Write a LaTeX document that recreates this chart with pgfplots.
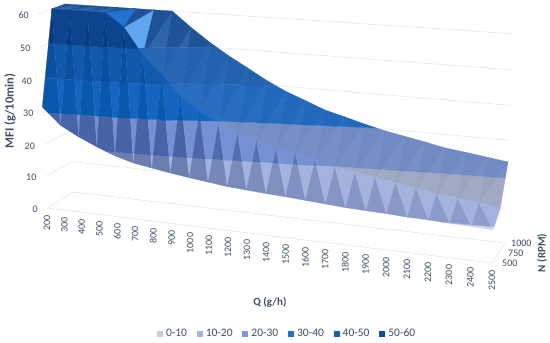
\documentclass[border=0pt]{standalone}
\usepackage{fontspec}
\setmainfont{Carlito}
\usepackage{xfp}
\usepackage{pgfplots}
\usepackage{pgfplotstable}
\pgfplotsset{compat=1.18}
\definecolor{txt}{HTML}{3F4E64}
\definecolor{gridc}{HTML}{E7E7E7}
\definecolor{LG1}{HTML}{C4CCE4}\definecolor{LG2}{HTML}{A5B2DA}\definecolor{LG3}{HTML}{7E97D6}
\definecolor{LG4}{HTML}{1F72CC}\definecolor{LG5}{HTML}{1562B4}\definecolor{LG6}{HTML}{0F4C9C}
\definecolor{FL1}{HTML}{D6DBF0}\definecolor{FD1}{HTML}{C4CCE6}
\definecolor{FL2}{HTML}{B2BFEA}\definecolor{FD2}{HTML}{6C7EB0}
\definecolor{FL3}{HTML}{7F9CDE}\definecolor{FD3}{HTML}{4664A6}
\definecolor{FL4}{HTML}{1568C4}\definecolor{FD4}{HTML}{0A58AE}
\definecolor{FL5}{HTML}{125CB0}\definecolor{FD5}{HTML}{0A4FA0}
\definecolor{FL6}{HTML}{0D4792}\definecolor{FD6}{HTML}{0A3A80}
\definecolor{BL1}{HTML}{D6DBF0}\definecolor{BD1}{HTML}{C4CCE6}
\definecolor{BL2}{HTML}{A8B1CB}\definecolor{BD2}{HTML}{969FBD}
\definecolor{BL3}{HTML}{7D94CA}\definecolor{BD3}{HTML}{6E87C2}
\definecolor{BL4}{HTML}{2F72C4}\definecolor{BD4}{HTML}{1E66BA}
\definecolor{BL5}{HTML}{2C6AB8}\definecolor{BD5}{HTML}{205FAA}
\definecolor{BL6}{HTML}{5FA5F0}\definecolor{BD6}{HTML}{1B4F93}
\definecolor{CL6}{HTML}{2272D2}\definecolor{CD6}{HTML}{2272D2}
% MFI (g/10min) read from the surface; the value axis stops at 60
\pgfplotstableread{
Q    N500 N750 N1000
200  31.8 60.0 60.0
300  26.6 60.0 60.0
400  23.6 60.0 60.0
500  21.1 60.0 60.0
600  18.9 56.0 60.0
700  17.3 48.0 60.0
800  16.4 42.6 60.0
900  15.5 36.3 55.5
1000 14.7 32.4 51.4
1100 14.0 29.3 47.8
1200 13.3 27.0 44.6
1300 12.9 25.2 41.3
1400 12.5 23.5 38.5
1500 12.2 22.7 36.3
1600 11.8 21.2 34.0
1700 11.4 19.8 32.5
1800 11.0 18.9 30.9
1900 10.8 18.0 29.5
2000 10.6 17.1 28.4
2100 10.3 16.1 27.3
2200 10.2 15.1 26.1
2300 9.9  14.5 25.4
2400 9.7  13.8 24.6
2500 9.5  13.0 23.8
}\mfi
% perspective projection of (Q,N,MFI) on the picture
\newcommand\Wd[3]{(1-.11*((#1)-200)/2300+.0335*((#2)-500)/500-.0344*(#3)/60)}
\newcommand\PX[3]{\fpeval{round((47+390.88*((#1)-200)/2300+28.44*((#2)-500)/500-10.31*(#3)/60)/\Wd{#1}{#2}{#3},2)}}
\newcommand\PY[3]{\fpeval{round((208+26.07*((#1)-200)/2300-9.57*((#2)-500)/500-194.48*(#3)/60)/\Wd{#1}{#2}{#3},2)}}
\newcommand\PQ[3]{(\PX{#1}{#2}{#3},\PY{#1}{#2}{#3}) }
\newcount\npts
\newcommand\addpt[3]{\edef\coords{\coords\PQ{#1}{#2}{#3}}\advance\npts 1\relax}
\newcommand\cross[7]{%
  \edef\tQ{\fpeval{(#1)+((#7)-(#3))/((#6)-(#3))*((#4)-(#1))}}%
  \edef\tN{\fpeval{(#2)+((#7)-(#3))/((#6)-(#3))*((#5)-(#2))}}%
  \addpt{\tQ}{\tN}{#7}}
\newcommand\Edge[6]{%
  \ifdim#3pt<\lo pt\else\ifdim#3pt>\hi pt\else\addpt{#1}{#2}{#3}\fi\fi
  \ifdim#3pt<#6pt
    \ifdim#3pt<\lo pt\ifdim#6pt>\lo pt\cross{#1}{#2}{#3}{#4}{#5}{#6}{\lo}\fi\fi
    \ifdim#3pt<\hi pt\ifdim#6pt>\hi pt\cross{#1}{#2}{#3}{#4}{#5}{#6}{\hi}\fi\fi
  \else
    \ifdim#3pt>\hi pt\ifdim#6pt<\hi pt\cross{#1}{#2}{#3}{#4}{#5}{#6}{\hi}\fi\fi
    \ifdim#3pt>\lo pt\ifdim#6pt<\lo pt\cross{#1}{#2}{#3}{#4}{#5}{#6}{\lo}\fi\fi
  \fi}
\newcommand\Band[3]{%
  \def\lo{#2}\def\hi{#3}\def\coords{}\npts=0\relax
  \Edge\Qa\Na\Za\Qb\Nb\Zb
  \Edge\Qb\Nb\Zb\Qc\Nc\Zc
  \Edge\Qc\Nc\Zc\Qa\Na\Za
  \ifnum\npts>2\relax
    \ifnum#1=6\relax\edef\sh{\sSix}\else\edef\sh{\s}\fi
    \edef\temp{\noexpand\addplot[forget plot,fill=\fam L#1!\sh!\fam D#1,draw=\fam L#1!\sh!\fam D#1,line width=.25pt] coordinates {\coords} -- cycle;}\temp
  \fi}
\newcommand\Tri[9]{%
  \edef\Qa{#1}\edef\Na{#2}\edef\Za{#3}\edef\Qb{#4}\edef\Nb{#5}\edef\Zb{#6}\edef\Qc{#7}\edef\Nc{#8}\edef\Zc{#9}%
  \Band{1}{0}{10}\Band{2}{10}{20}\Band{3}{20}{30}\Band{4}{30}{40}\Band{5}{40}{50}\Band{6}{50}{60}}
\newcommand\LoadCell[3]{%
  \pgfmathtruncatemacro\j{#1+1}%
  \pgfplotstablegetelem{#1}{Q}\of\mfi\edef\Qi{\pgfplotsretval}%
  \pgfplotstablegetelem{\j}{Q}\of\mfi\edef\Qj{\pgfplotsretval}%
  \pgfplotstablegetelem{#1}{#2}\of\mfi\edef\Ai{\pgfplotsretval}%
  \pgfplotstablegetelem{\j}{#2}\of\mfi\edef\Aj{\pgfplotsretval}%
  \pgfplotstablegetelem{#1}{#3}\of\mfi\edef\Bi{\pgfplotsretval}%
  \pgfplotstablegetelem{\j}{#3}\of\mfi\edef\Bj{\pgfplotsretval}}
\newcommand\BackCell[1]{%
  \LoadCell{#1}{N750}{N1000}\def\fam{B}%
  \def\s{60}\def\sSix{25}%
  \ifnum#1=3\relax\def\sSix{100}\def\fam{C}\fi
  \ifnum#1=4\relax\def\sSix{100}\fi
  \Tri{\Qi}{750}{\Ai}{\Qj}{750}{\Aj}{\Qj}{1000}{\Bj}%
  \def\fam{B}\def\s{25}\def\sSix{5}%
  \Tri{\Qi}{750}{\Ai}{\Qi}{1000}{\Bi}{\Qj}{1000}{\Bj}}
\newcommand\FrontCell[1]{%
  \LoadCell{#1}{N500}{N750}\def\fam{F}%
  \edef\s{\fpeval{round(max(0,60-3*(\Bi-\Ai)))}}\edef\sSix{\s}%
  \Tri{\Qi}{500}{\Ai}{\Qj}{500}{\Aj}{\Qi}{750}{\Bi}%
  \def\s{80}\def\sSix{80}%
  \Tri{\Qj}{500}{\Aj}{\Qi}{750}{\Bi}{\Qj}{750}{\Bj}}
\newcommand\GridZ[1]{\edef\temp{\noexpand\addplot[forget plot,draw=gridc,line width=.6pt] coordinates {\PQ{200}{500}{#1}\PQ{200}{1000}{#1}\PQ{2500}{1000}{#1}};}\temp}
\newcommand\TickZ[1]{\edef\temp{\noexpand\node[anchor=east,inner sep=0pt,text=txt,font=\noexpand\fontsize{10}{12}\noexpand\selectfont] at (axis cs:\fpeval{\PX{200}{500}{#1}-9},\fpeval{\PY{200}{500}{#1}+1}) {#1};}\temp}
\newcommand\TickQ[1]{\edef\temp{\noexpand\node[anchor=east,rotate=90,inner sep=0pt,text=txt,font=\noexpand\fontsize{10}{12}\noexpand\selectfont] at (axis cs:\PX{#1}{500}{0},\fpeval{\PY{#1}{500}{0}+7}) {#1};}\temp}
\begin{document}
\begin{tikzpicture}
\path[use as bounding box] (0,0) rectangle (550pt,343pt);
\begin{axis}[
  at={(0,0)},anchor=south west,scale only axis,width=550pt,height=343pt,
  xmin=0,xmax=550,ymin=0,ymax=343,y dir=reverse,hide axis,clip=false,no markers,
  legend columns=6,
  legend image code/.code={\fill[draw=none,#1] (0pt,-3pt) rectangle (6pt,3pt);},
  legend style={at={(axis cs:286,333.5)},anchor=center,draw=none,fill=none,
    font=\fontsize{11.5}{13}\selectfont,text=txt,inner sep=0pt,
    nodes={inner sep=0pt,anchor=west},
    /tikz/every odd column/.append style={column sep=3.2pt},
    /tikz/every even column/.append style={column sep=9.6pt}},
]
\pgfplotsinvokeforeach{0,10,...,60}{\GridZ{#1}}
\edef\temp{\noexpand\addplot[forget plot,draw=gridc,line width=.6pt] coordinates {\PQ{200}{500}{0}\PQ{2500}{500}{0}\PQ{2500}{1000}{0}};}\temp
\pgfplotsinvokeforeach{0,...,22}{\BackCell{#1}}
\pgfplotsinvokeforeach{0,...,22}{\FrontCell{#1}}
\pgfplotsinvokeforeach{0,10,...,60}{\TickZ{#1}}
\pgfplotsinvokeforeach{200,300,...,2500}{\TickQ{#1}}
\node[anchor=west,inner sep=0pt,text=txt,font=\fontsize{10}{12}\selectfont] at (axis cs:502,263) {500};
\node[anchor=west,inner sep=0pt,text=txt,font=\fontsize{10}{12}\selectfont] at (axis cs:508,253) {750};
\node[anchor=west,inner sep=0pt,text=txt,font=\fontsize{10}{12}\selectfont] at (axis cs:511,243) {1000};
\node[rotate=90,text=txt,inner sep=0pt,font=\fontsize{12.5}{14}\bfseries] at (axis cs:10,111) {MFI (g/10min)};
\node[rotate=90,text=txt,inner sep=0pt,font=\fontsize{11}{13}\bfseries] at (axis cs:542,253) {N (RPM)};
\node[text=txt,inner sep=0pt,font=\fontsize{11}{13}\bfseries] at (axis cs:270,302) {Q (g/h)};
\addlegendimage{fill=LG1}
\addlegendimage{fill=LG2}
\addlegendimage{fill=LG3}
\addlegendimage{fill=LG4}
\addlegendimage{fill=LG5}
\addlegendimage{fill=LG6}
\legend{0-10,10-20,20-30,30-40,40-50,50-60}
\end{axis}
\end{tikzpicture}
\end{document}
